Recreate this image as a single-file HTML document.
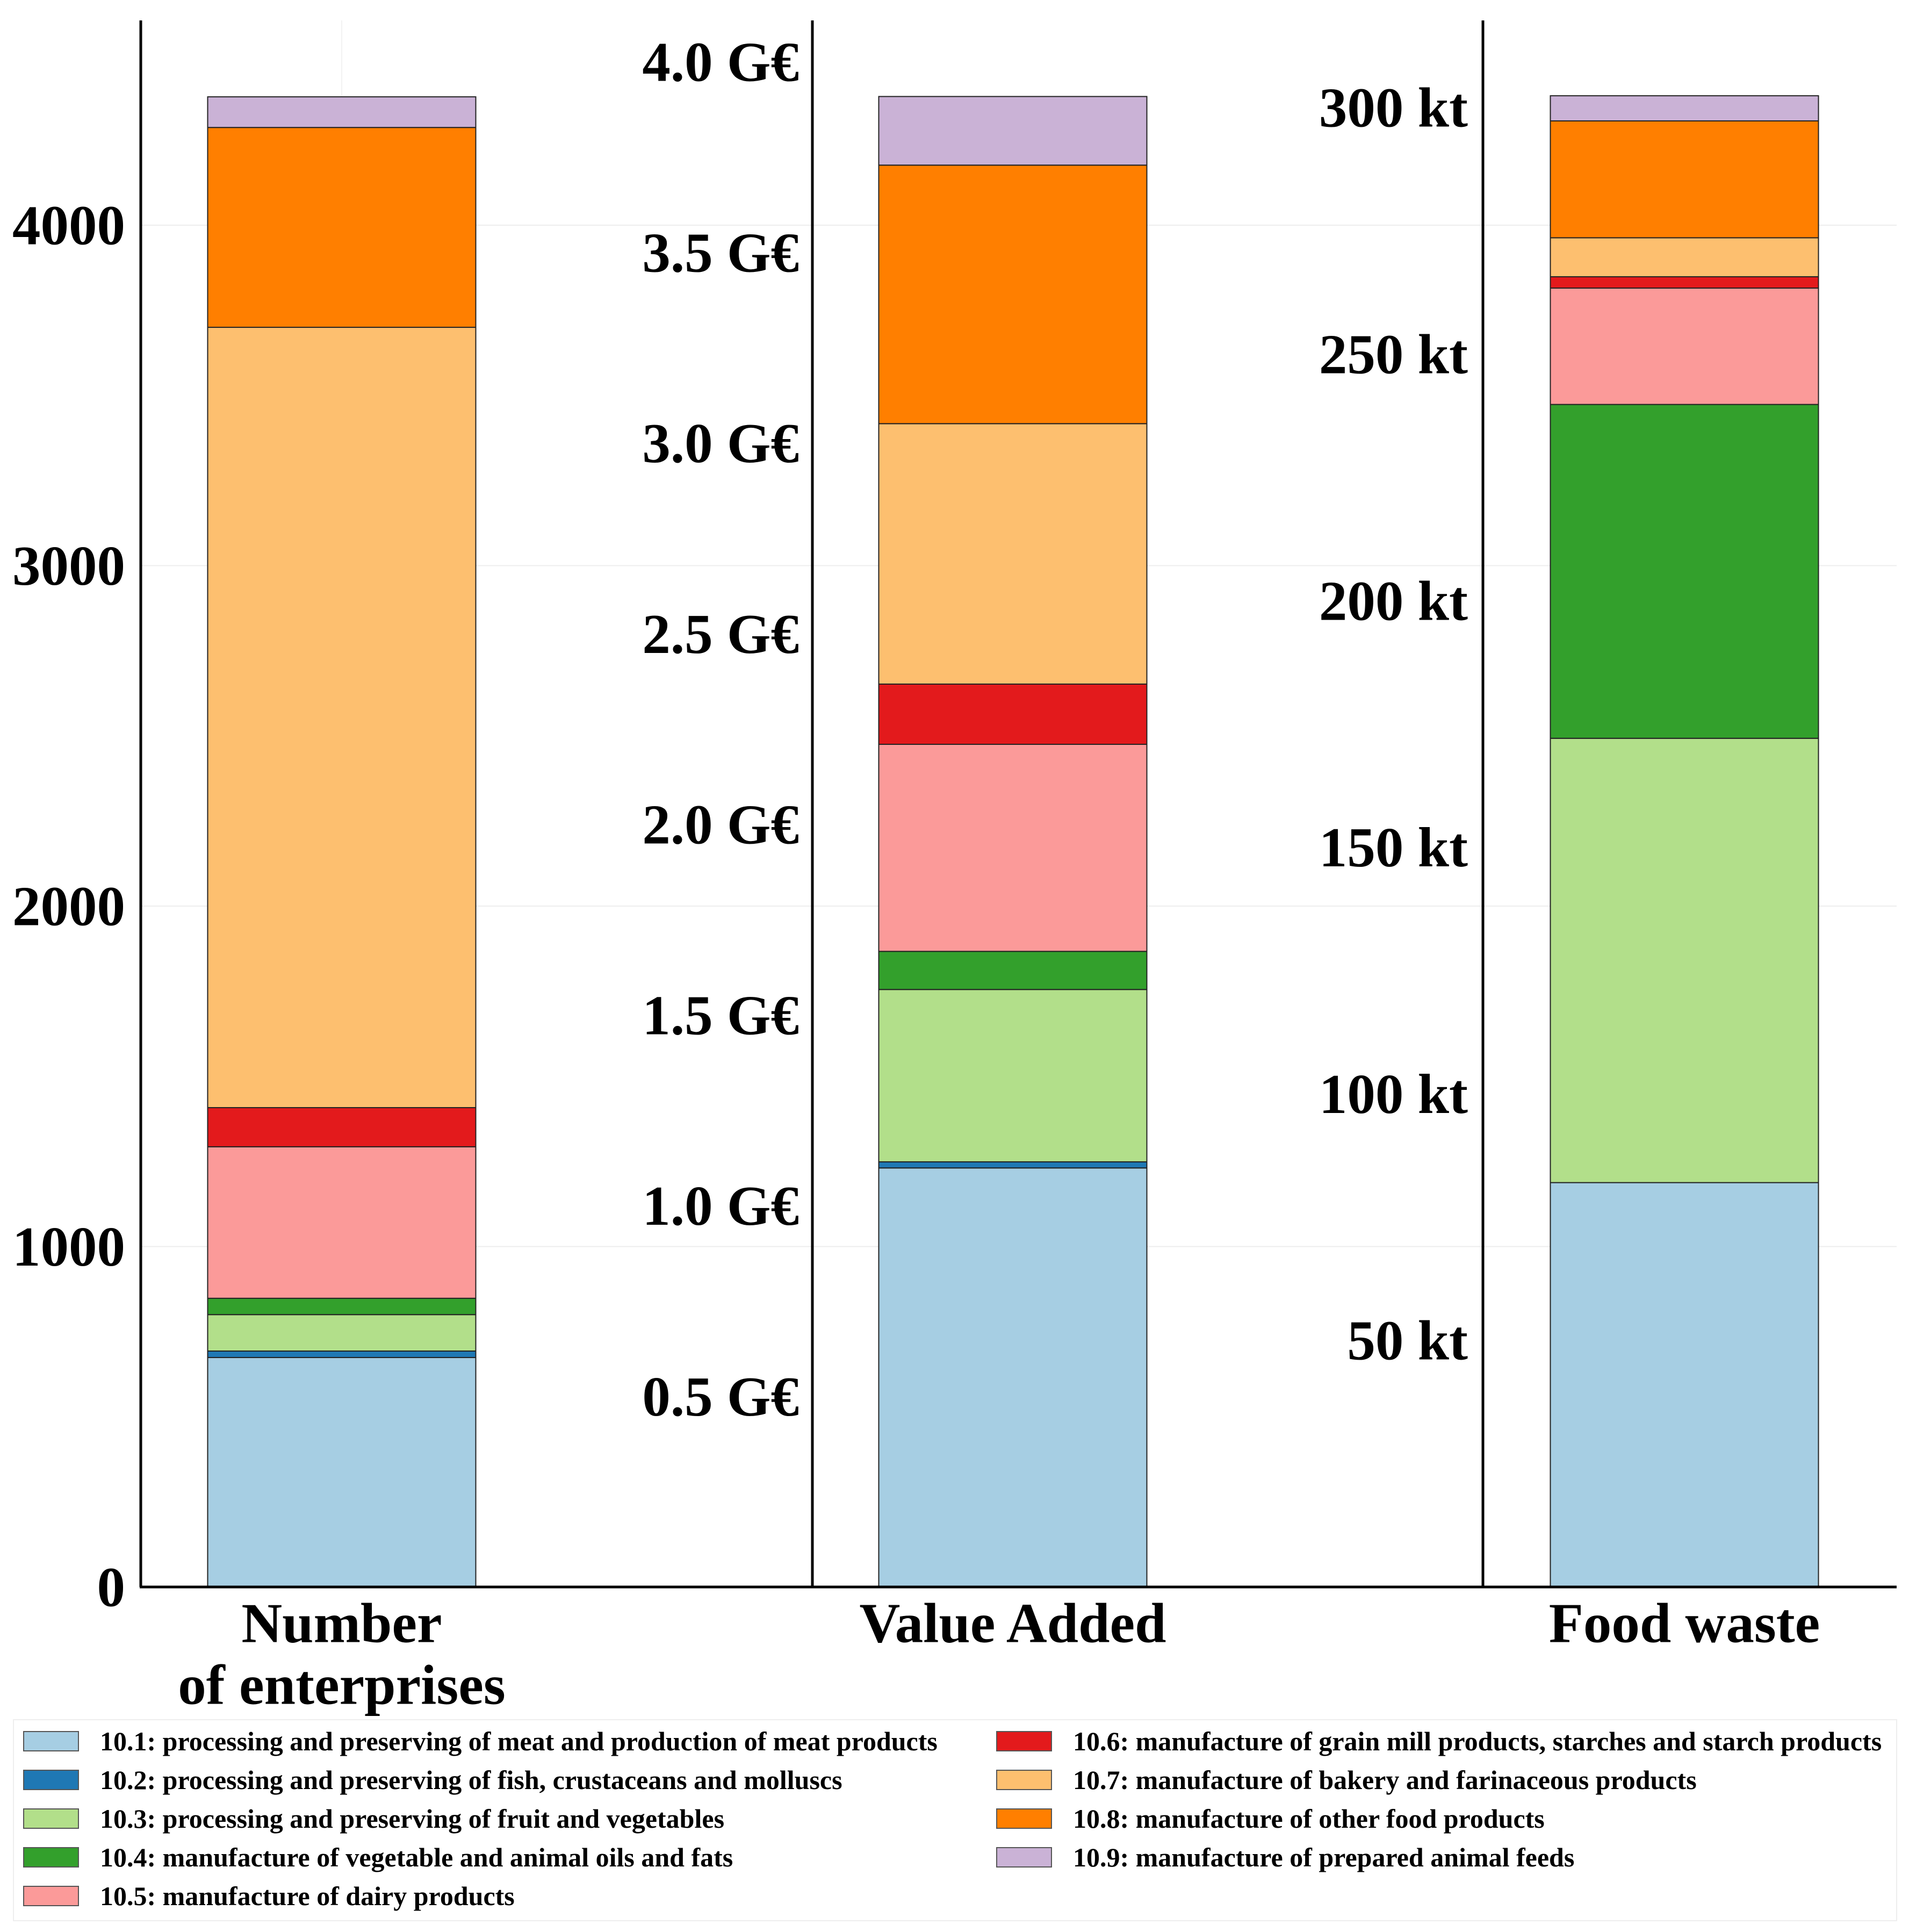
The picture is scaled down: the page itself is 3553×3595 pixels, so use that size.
<!DOCTYPE html>
<html><head><meta charset="utf-8"><style>
html,body{margin:0;padding:0;background:#fff;}
svg{display:block;font-family:"Liberation Serif",serif;font-weight:bold;}
</style></head><body>
<svg id="chart" width="3553" height="3595" viewBox="0 0 3553 3595" xmlns="http://www.w3.org/2000/svg">
<g id="grid"></g>
<g id="bars"></g>
<g id="axes"></g>
<g id="legend"></g>
</svg>
<script>
const categories = ["10.1: processing and preserving of meat and production of meat products","10.2: processing and preserving of fish, crustaceans and molluscs","10.3: processing and preserving of fruit and vegetables","10.4: manufacture of vegetable and animal oils and fats","10.5: manufacture of dairy products","10.6: manufacture of grain mill products, starches and starch products","10.7: manufacture of bakery and farinaceous products","10.8: manufacture of other food products","10.9: manufacture of prepared animal feeds"];
const colors = ["#a6cee3","#1f78b4","#b2df8a","#33a02c","#fb9a99","#e31a1c","#fdbf6f","#ff7f00","#cab2d6"];
const panelNames = ["Number of enterprises","Value Added","Food waste"];
const enterprises = [674,19,107,48,445,115,2292,587,90];
const valueAdded = [1.099,0.016,0.452,0.100,0.543,0.158,0.683,0.678,0.180];
const foodWaste = [82.0,0.0,90.1,67.7,23.6,2.3,7.9,23.7,5.1];
const ticksEnt = [0,1000,2000,3000,4000];
const ticksVA = [0.5,1.0,1.5,2.0,2.5,3.0,3.5,4.0];
const ticksFW = [50,100,150,200,250,300];
const tickLabelsVA = ["0.5 G€","1.0 G€","1.5 G€","2.0 G€","2.5 G€","3.0 G€","3.5 G€","4.0 G€"];
const tickLabelsFW = ["50 kt","100 kt","150 kt","200 kt","250 kt","300 kt"];

const NS="http://www.w3.org/2000/svg";
function mk(tag,attrs,parent){const e=document.createElementNS(NS,tag);for(const k in attrs)e.setAttribute(k,attrs[k]);parent.appendChild(e);return e;}
const base=2953, top0=38;
const yEnt=v=>base-v*0.6335;
const yVA=v=>base-v*709.5;
const yFW=v=>base-v*9.176;
const grid=document.getElementById('grid'),bars=document.getElementById('bars'),axes=document.getElementById('axes'),legend=document.getElementById('legend');

ticksEnt.forEach(t=>{const l=mk('line',{x1:262,x2:3530,y1:yEnt(t),y2:yEnt(t),stroke:'#eeeeee','stroke-width':2},grid);

});
mk('line',{x1:636,x2:636,y1:top0,y2:base,stroke:'#f2f2f2','stroke-width':2},grid);

const panels=[{vals:enterprises,y:yEnt,cx:636},{vals:valueAdded,y:yVA,cx:1885},{vals:foodWaste,y:yFW,cx:3135}];
const bw=499;
panels.forEach((p,pi)=>{let cum=0;p.vals.forEach((v,i)=>{const y1=p.y(cum),y2=p.y(cum+v);cum+=v;
const r=mk('rect',{x:p.cx-bw/2,y:y2,width:bw,height:Math.max(0,y1-y2),fill:colors[i],stroke:'#222','stroke-width':2},bars);

});});

[262,1512,2760].forEach(x=>{const l=mk('line',{x1:x,x2:x,y1:top0,y2:base,stroke:'#000','stroke-width':5},axes);

});
const xl=mk('line',{x1:260,x2:3530,y1:base,y2:base,stroke:'#000','stroke-width':5},axes);



function tick(x,y,txt){const t=mk('text',{x:x,y:y,'font-size':105,'text-anchor':'end','dominant-baseline':'central'},axes);t.textContent=txt;

}
ticksEnt.forEach(t=>tick(233,yEnt(t),String(t)));
ticksVA.forEach((t,i)=>tick(1487,yVA(t),tickLabelsVA[i]));
ticksFW.forEach((t,i)=>tick(2732,yFW(t),tickLabelsFW[i]));

const cl=[["Number","of enterprises"],["Value Added"],["Food waste"]];
cl.forEach((lines,i)=>{lines.forEach((s,j)=>{const t=mk('text',{x:panels[i].cx,y:3020+j*115,'font-size':105,'text-anchor':'middle','dominant-baseline':'central'},axes);t.textContent=s;

});});

const lb=mk('rect',{x:25,y:3200,width:3505,height:374,fill:'#fff',stroke:'#eeeeee','stroke-width':2},legend);


categories.forEach((c,i)=>{const col=i<5?0:1,row=i<5?i:i-5;
const sx=col?1855:44,ty=3240+row*72;
const r=mk('rect',{x:sx,y:ty-18,width:102,height:36,fill:colors[i],stroke:'#555','stroke-width':2},legend);


const t=mk('text',{x:sx+142,y:ty,'font-size':50,'dominant-baseline':'central'},legend);t.textContent=c;

});
</script>
</body></html>
